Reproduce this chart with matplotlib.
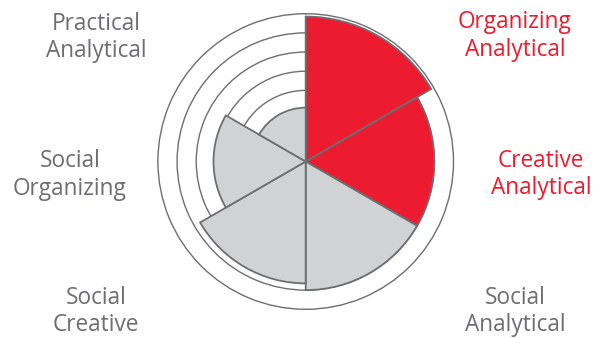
import numpy as np
import matplotlib
matplotlib.use("Agg")
import matplotlib.pyplot as plt

plt.rcParams["font.family"] = ["Open Sans", "DejaVu Sans"]

# sectors clockwise from 12 o'clock
labels = ["Organizing\nAnalytical", "Creative\nAnalytical", "Social\nAnalytical",
          "Social\nCreative", "Social\nOrganizing", "Practical\nAnalytical"]
values = [6.85, 6.0, 6.0, 5.65, 4.1, 2.1]
highlight = [True, True, False, False, False, False]
rings = [1, 2, 3, 4, 5, 6]
R0, RMAX = -0.71, 7.0

RED, GREY, LINE, TXT = "#ed1b2f", "#d1d2d4", "#6d6e71", "#6d6e71"

fig = plt.figure(figsize=(5.98, 3.38), dpi=100)
ax = fig.add_axes([0.26405, 0.0849, 0.4943, 0.8746], projection="polar")
ax.set_theta_zero_location("N")
ax.set_theta_direction(-1)

n = len(values)
width = 2 * np.pi / n
theta = np.arange(n) * width + width / 2
vals = np.array(values)
ax.bar(theta, vals - R0, width=width, bottom=R0,
       color=[RED if h else GREY for h in highlight],
       edgecolor=LINE, linewidth=1.3, zorder=2)

ax.set_ylim(R0, RMAX)
ax.set_xticks([])
ax.set_yticks(rings)
ax.set_yticklabels([])
ax.yaxis.grid(True, color=LINE, linewidth=1.0)
ax.xaxis.grid(False)
ax.set_axisbelow(True)
ax.spines["polar"].set_color(LINE)
ax.spines["polar"].set_linewidth(1.0)

# label positions in pixels (x, y from top)
pos = [(515, 36), (541, 174.5), (515, 311.5), (96, 311.5), (70, 175), (96, 37.5)]
for lab, (px, py), h in zip(labels, pos, highlight):
    fig.text(px / 598, 1 - py / 338, lab, ha="center", va="center",
             fontsize=16.3, color=RED if h else TXT, linespacing=1.2)

fig.savefig("out.png", dpi=100)
